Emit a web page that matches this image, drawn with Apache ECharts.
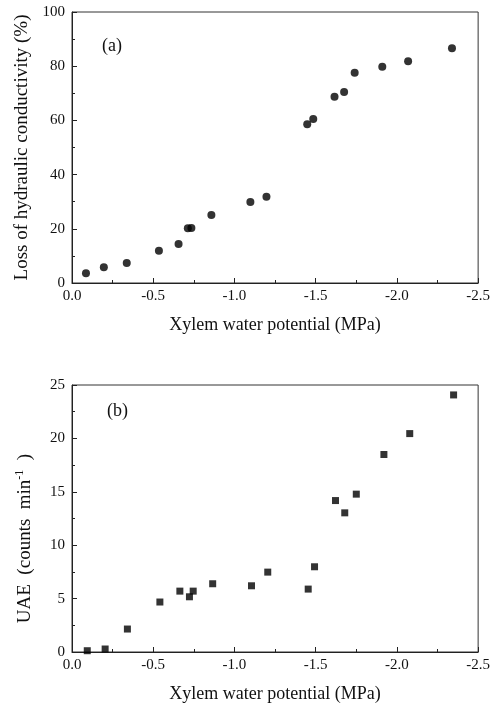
<!DOCTYPE html>
<html>
<head>
<meta charset="utf-8">
<script src="https://cdn.jsdelivr.net/npm/echarts@6/dist/echarts.min.js"></script>
<style>
  html, body { margin: 0; padding: 0; background: #fff; }
  #chart { width: 493px; height: 715px; }
</style>
</head>
<body>
<div id="chart"></div>
<script>
// (a) loss of hydraulic conductivity vs xylem water potential
const potA = [-0.086, -0.196, -0.337, -0.535, -0.656, -0.713, -0.735, -0.858, -1.098, -1.197,
  -1.448, -1.485, -1.616, -1.675, -1.740, -1.910, -2.069, -2.339];
const lossA = [3.6, 5.8, 7.4, 11.9, 14.4, 20.2, 20.3, 25.1, 29.9, 31.8,
  58.6, 60.5, 68.7, 70.5, 77.6, 79.8, 81.8, 86.6];

// (b) UAE vs xylem water potential
const potB = [-0.094, -0.204, -0.341, -0.541, -0.664, -0.723, -0.746, -0.866, -1.105, -1.205,
  -1.454, -1.493, -1.622, -1.679, -1.750, -1.920, -2.079, -2.349];
const uaeB = [0.12, 0.28, 2.15, 4.68, 5.70, 5.17, 5.70, 6.39, 6.20, 7.48,
  5.89, 7.98, 14.18, 13.03, 14.78, 18.49, 20.45, 24.07];

const font = 'Liberation Serif';

const pairs = (xs, ys) => xs.map((x, i) => [x, ys[i]]);

function xAxis(gridIndex) {
  return {
    type: 'value', gridIndex: gridIndex,
    min: -2.5, max: 0, interval: 0.5, inverse: true,
    name: 'Xylem water potential (MPa)',
    nameLocation: 'middle', nameGap: 33,
    nameTextStyle: { fontFamily: font, fontSize: 18, color: '#111' },
    axisLine: { onZero: false, lineStyle: { color: '#222', width: 1 } },
    axisTick: { inside: true, length: 5, lineStyle: { color: '#222' } },
    minorTick: { show: true, splitNumber: 2, length: 3, lineStyle: { color: '#222' } },
    splitLine: { show: false },
    axisLabel: {
      fontFamily: font, fontSize: 15, color: '#111', margin: 6,
      formatter: v => v.toFixed(1)
    }
  };
}

function yAxis(gridIndex, max, interval, name, gap, fontSize, padding) {
  return {
    type: 'value', gridIndex: gridIndex,
    min: 0, max: max, interval: interval,
    name: name, nameLocation: 'middle', nameGap: gap,
    nameTextStyle: {
      fontFamily: font, fontSize: fontSize, color: '#111', padding: padding,
      rich: { sup: { fontFamily: font, fontSize: 12, color: '#111', padding: [0, 0, 10, 0] } }
    },
    axisLine: { onZero: false, lineStyle: { color: '#222', width: 1 } },
    axisTick: { inside: true, length: 5, lineStyle: { color: '#222' } },
    minorTick: { show: true, splitNumber: 2, length: 3, lineStyle: { color: '#222' } },
    splitLine: { show: false },
    axisLabel: { fontFamily: font, fontSize: 15, color: '#111', margin: 7 }
  };
}

const chart = echarts.init(document.getElementById('chart'), null, { renderer: 'canvas' });

chart.setOption({
  backgroundColor: '#fff',
  animation: false,
  grid: [
    { left: 72, right: 13, top: 12, height: 271, show: true, borderColor: '#333', borderWidth: 1 },
    { left: 72, right: 13, top: 385, height: 267, show: true, borderColor: '#333', borderWidth: 1 }
  ],
  xAxis: [xAxis(0), xAxis(1)],
  yAxis: [
    yAxis(0, 100, 20, 'Loss of hydraulic conductivity (%)', 40, 19, 0),
    yAxis(1, 25, 5, 'UAE  (counts  min{sup|-1}  )', 36, 19, [0, 40, 0, 0])
  ],
  graphic: [
    { type: 'text', left: 102, top: 37, style: { text: '(a)', fontFamily: font, fontSize: 18, fill: '#111' } },
    { type: 'text', left: 107, top: 402, style: { text: '(b)', fontFamily: font, fontSize: 18, fill: '#111' } }
  ],
  series: [
    {
      type: 'scatter', xAxisIndex: 0, yAxisIndex: 0,
      symbol: 'circle', symbolSize: 8,
      itemStyle: { color: '#000' },
      data: pairs(potA, lossA)
    },
    {
      type: 'scatter', xAxisIndex: 1, yAxisIndex: 1,
      symbol: 'rect', symbolSize: 7,
      itemStyle: { color: '#000' },
      data: pairs(potB, uaeB)
    }
  ]
});
</script>
</body>
</html>
